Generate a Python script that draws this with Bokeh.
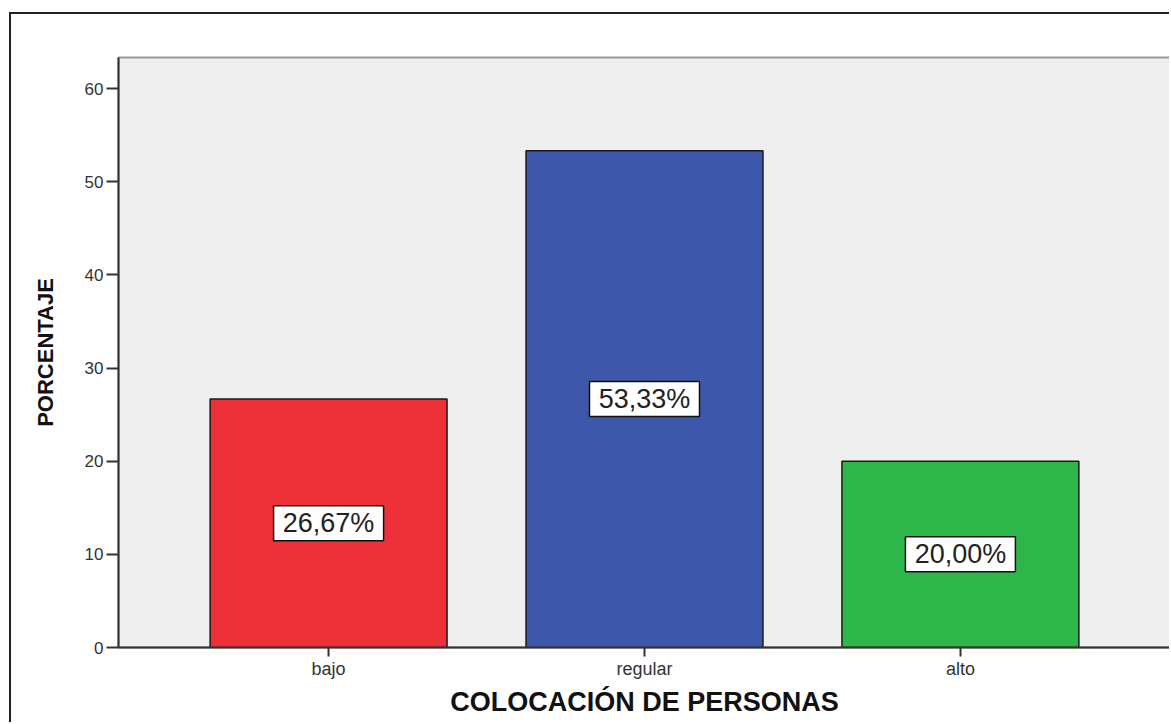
from bokeh.plotting import figure
from bokeh.models import ColumnDataSource, FactorRange, Range1d, FixedTicker
from bokeh.core.properties import value
from bokeh.embed import file_html
from bokeh.resources import INLINE

categories = ["bajo", "regular", "alto"]
percentages = [26.67, 53.33, 20.00]
colors = ["#EE3139", "#3D57AA", "#2EB64A"]
labels = ["26,67%", "53,33%", "20,00%"]
y_ticks = [0, 10, 20, 30, 40, 50, 60]

src = ColumnDataSource(dict(
    cat=categories,
    val=percentages,
    color=colors,
    lab=labels,
    mid=[v / 2 for v in percentages],
))

p = figure(
    x_range=FactorRange(*categories, range_padding=0.165, range_padding_units="absolute"),
    y_range=Range1d(0, 63.33),
    width=1160, height=710,
    output_backend="svg", toolbar_location=None,
    min_border_left=107, min_border_top=43, min_border_right=1, min_border_bottom=77,
)
p.styles = {"margin-left": "9px", "margin-top": "12px",
            "border-top": "2px solid #222", "border-left": "2px solid #222"}

p.vbar(x="cat", top="val", width=0.75, source=src, fill_color="color",
       line_color="#1a1a1a", line_width=1.5)

p.rect(x="cat", y="mid", width=110, height=35, width_units="screen", height_units="screen",
       source=src, fill_color="white", line_color="#111111", line_width=1.5)
p.text(x="cat", y="mid", text="lab", source=src,
       text_align="center", text_baseline="middle",
       text_font=value("Liberation Sans"), text_font_size="27px", text_color="#222222")

p.background_fill_color = "#EFEFEF"
p.border_fill_color = "white"
p.outline_line_color = "#999999"
p.outline_line_width = 2
p.xgrid.grid_line_color = None
p.ygrid.grid_line_color = None

p.yaxis.ticker = FixedTicker(ticks=y_ticks)
p.yaxis.minor_tick_line_color = None
p.yaxis.major_tick_out = 12
p.yaxis.major_tick_in = 0
p.yaxis.major_label_standoff = 3
p.yaxis.axis_label = "PORCENTAJE"
p.yaxis.axis_label_standoff = 24
p.yaxis.major_label_text_font_size = "17px"
p.yaxis.axis_label_text_font_size = "22px"

p.xaxis.major_tick_out = 9
p.xaxis.major_tick_in = 0
p.xaxis.major_label_standoff = 2
p.xaxis.axis_label = "COLOCACIÓN DE PERSONAS"
p.xaxis.axis_label_standoff = 5
p.xaxis.major_label_text_font_size = "18px"
p.xaxis.axis_label_text_font_size = "27px"

for ax in (p.xaxis, p.yaxis):
    ax.axis_line_color = "#333333"
    ax.axis_line_width = 2
    ax.major_tick_line_color = "#333333"
    ax.major_tick_line_width = 2
    ax.major_label_text_font = "Liberation Sans"
    ax.major_label_text_color = "#333333"
    ax.axis_label_text_font = "Liberation Sans"
    ax.axis_label_text_font_style = "bold"
    ax.axis_label_text_color = "#111111"

open("out.html", "w").write(file_html(p, INLINE))
